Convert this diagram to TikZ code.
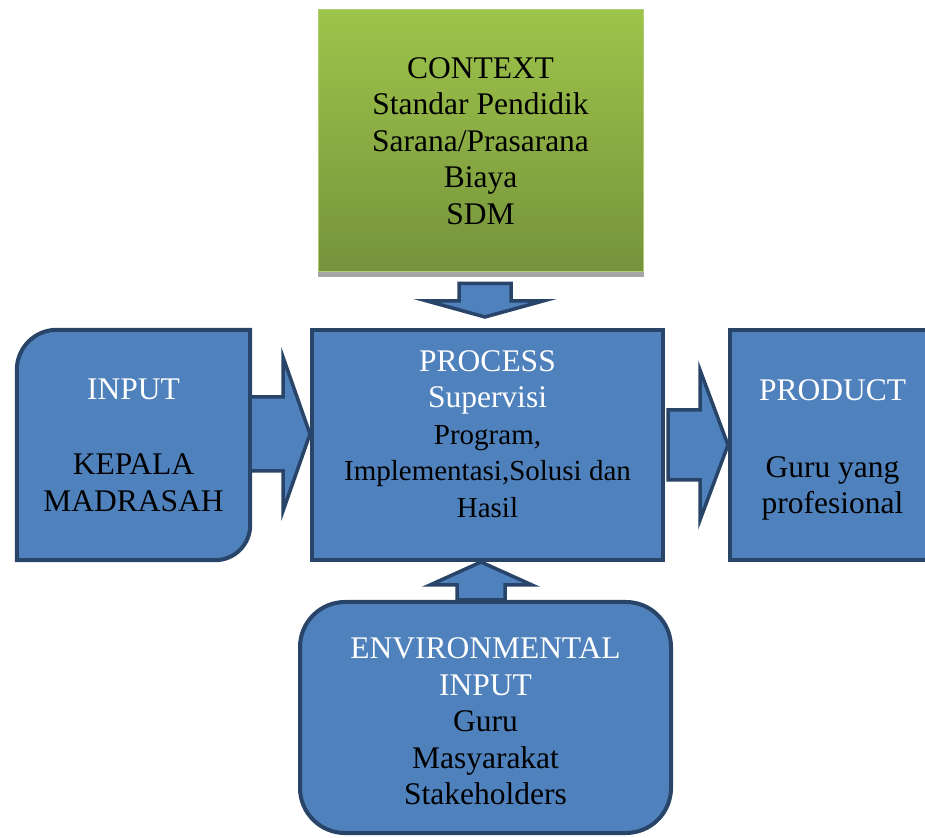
\documentclass[tikz,border=0pt]{standalone}
\usepackage{fontspec}
\setmainfont{Liberation Serif}
\usepackage{tikz}
\usetikzlibrary{calc,positioning,backgrounds}
\tikzset{font={\fontsize{31.5pt}{36.5pt}\selectfont}}
\usepackage{xcolor}
\definecolor{boxblue}{RGB}{79,129,189}
\definecolor{boxline}{RGB}{40,68,105}
\definecolor{ctxtop}{RGB}{158,196,74}
\definecolor{ctxbot}{RGB}{118,147,60}
\newcommand{\wht}[1]{\textcolor{white}{#1}}
\newcommand{\sml}{\fontsize{29pt}{35pt}\selectfont}
% tail, tip, shaft half width, head half width, head length
\newcommand{\blockarrow}[5]{%
\coordinate (hb) at ($(#2)!#5!(#1)$);
\draw[block arrow] ($(#1)!#3!90:(#2)$) -- ($(hb)!#3!90:(#2)$) -- ($(hb)!#4!90:(#2)$) -- (#2)
  -- ($(hb)!#4!-90:(#2)$) -- ($(hb)!#3!-90:(#2)$) -- ($(#1)!#3!-90:(#2)$) -- cycle;}

\begin{document}
\begin{tikzpicture}[x=1pt,y=1pt,
blue box/.style={fill=boxblue,draw=boxline,line width=4pt,inner sep=0pt,align=center},
box line/.style={fill=boxblue,draw=boxline,line width=4pt},
block arrow/.style={fill=boxblue,draw=boxline,line width=3.5pt,line join=miter}
]
\useasboundingbox (0,0) rectangle (925,837);
\clip (0,0) rectangle (925,837);

\node[top color=ctxtop,bottom color=ctxbot,draw={rgb,255:red,172;green,206;blue,112},line width=1pt,
  minimum width=325pt,minimum height=262pt,inner sep=0pt,align=center] (context) at (480.5,696)
  {CONTEXT\\ Standar Pendidik\\ Sarana/Prasarana\\ Biaya\\ SDM};
\fill[black!35] ([yshift=-5pt]context.south west) rectangle (context.south east);

\node[inner sep=0pt,minimum width=233pt,minimum height=230pt,align=center] (input) at (133.5,392)
  {\wht{INPUT}\\[39pt] KEPALA\\ MADRASAH};
\begin{scope}[on background layer]
\draw[box line] (input.south west) -- ([yshift=-40pt]input.north west)
  arc[start angle=180,end angle=90,radius=40pt] -- (input.north east)
  -- ([yshift=35pt]input.south east) arc[start angle=0,end angle=-90,radius=35pt] -- cycle;
\end{scope}

\node[blue box,minimum width=351pt,minimum height=230pt] (process) at (487.5,392) {};
\node[align=center] (proctext) at ([yshift=11pt]process.center)
  {\wht{PROCESS}\\ \wht{Supervisi}\\ \sml Program,\\ \sml Implementasi,Solusi dan\\ \sml Hasil};

\node[blue box,minimum width=205pt,minimum height=230pt] (product) at (832.5,392) {};
\node[align=center] (prodtext) at ([yshift=-5pt]product.center)
  {\wht{PRODUCT}\\[40pt] Guru yang\\ profesional};

\node[blue box,rounded corners=45pt,minimum width=371pt,minimum height=231pt] (env) at (485.5,119.5) {};
\node[align=center] (envtext) at ([yshift=-4pt]env.center)
  {\wht{ENVIRONMENTAL}\\ \wht{INPUT}\\ Guru\\ Masyarakat\\ Stakeholders};

\coordinate (a1) at ([yshift=11pt]input.east);
\coordinate (a2) at (a1 -| process.west);
\blockarrow{a1}{a2}{37pt}{77pt}{27pt}

\coordinate (b1) at ([xshift=3pt]process.east);
\coordinate (b2) at (b1 -| product.west);
\blockarrow{b1}{b2}{35pt}{75pt}{28pt}

\coordinate (c1) at ([xshift=4.5pt,yshift=-11pt]context.south);
\coordinate (c2) at ([yshift=11pt]c1 |- process.north);
\blockarrow{c1}{c2}{26pt}{58pt}{16pt}

\coordinate (d1) at ([xshift=-4.5pt]env.north);
\coordinate (d2) at (d1 |- process.south);
\blockarrow{d1}{d2}{24pt}{51pt}{23pt}

\end{tikzpicture}
\end{document}
